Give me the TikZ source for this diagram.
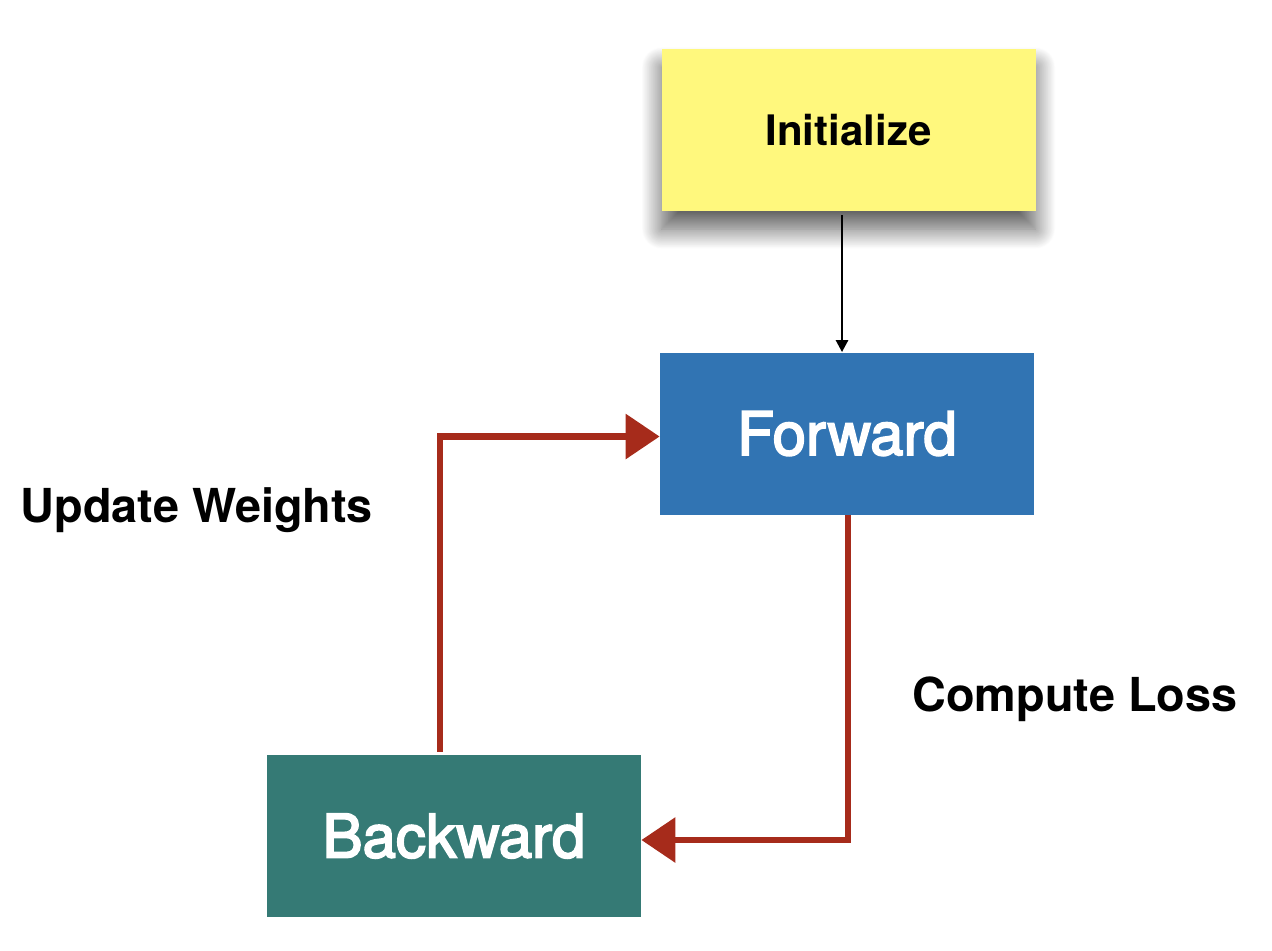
\documentclass[tikz,border=0pt]{standalone}
\usepackage{fontspec}
\setmainfont{TeX Gyre Heros}
\newfontfamily\medfont[FakeBold=3]{TeX Gyre Heros}
\usetikzlibrary{arrows.meta,shadows.blur}
\definecolor{inityellow}{HTML}{FFF87D}
\definecolor{fwdblue}{HTML}{3174B3}
\definecolor{backteal}{HTML}{357A75}
\definecolor{loopred}{HTML}{A62B1B}
\tikzset{
  stepbox/.style={rectangle, inner sep=0pt, minimum width=187pt, minimum height=81pt},
  initbox/.style={stepbox, fill=inityellow, font=\fontsize{21pt}{25pt}\selectfont\bfseries,
    blur shadow={shadow xshift=0pt, shadow yshift=-9pt, shadow blur radius=10pt, shadow opacity=65, shadow blur steps=30}},
  fwdbox/.style={stepbox, fill=fwdblue, text=white, font=\fontsize{30pt}{36pt}\medfont},
  backbox/.style={stepbox, fill=backteal, text=white, font=\fontsize{30pt}{36pt}\medfont},
  looparrow/.style={draw=loopred, line width=3.2pt, -{Triangle[length=17pt,width=22pt]}},
  plainarrow/.style={draw=black, line width=1.3pt, -{Triangle[length=6pt,width=6pt]}},
  steplabel/.style={font=\fontsize{23.4pt}{28pt}\selectfont\bfseries, inner sep=0pt, anchor=west}
}
\begin{document}
\begin{tikzpicture}[x=0.5pt,y=-0.5pt]
\useasboundingbox (0,0) rectangle (1272,950);
\node[initbox] (init) at (848.5,130) {Initialize};
\node[fwdbox] (fwd) at (847,433.5) {Forward};
\node[backbox] (back) at (454,836) {Backward};
\coordinate (upx) at (440,752);
\coordinate (downx) at (848,514);
\coordinate (initx) at (842,215);
\node[steplabel] (upd) at (20,510) {Update Weights};
\node[steplabel] (loss) at (912,699) {Compute Loss};
\draw[plainarrow] ([yshift=-2pt]init.south -| initx) -- (fwd.north -| initx);
\draw[looparrow] ([yshift=1.5pt]back.north -| upx) |- ([yshift=-1.5pt]fwd.west);
\draw[looparrow] (fwd.south -| downx) |- ([yshift=-2pt]back.east);
\end{tikzpicture}
\end{document}
